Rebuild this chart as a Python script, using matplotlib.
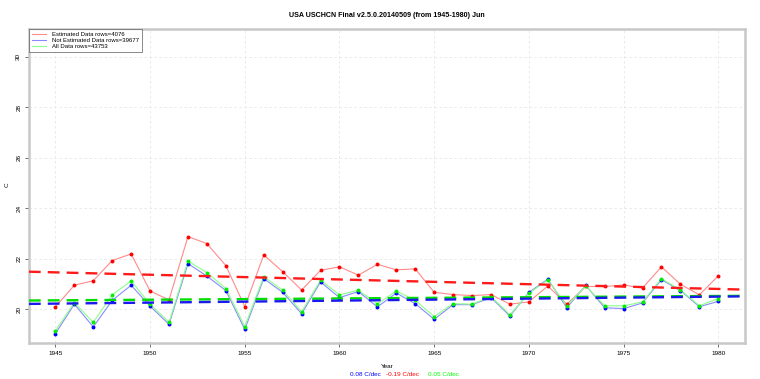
import numpy as np
import matplotlib
matplotlib.use("Agg")
import matplotlib.pyplot as plt

plt.rcParams['font.family'] = ['Liberation Sans', 'DejaVu Sans']

years = list(range(1945, 1981))
estimated = [20.08, 20.94, 21.12, 21.92, 22.18, 20.71, 20.36, 22.87, 22.59, 21.72,
             20.09, 22.14, 21.48, 20.75, 21.53, 21.67, 21.34, 21.77, 21.55, 21.59,
             20.66, 20.57, 20.53, 20.57, 20.19, 20.28, 20.91, 20.19, 20.89, 20.89,
             20.95, 20.83, 21.67, 20.98, 20.56, 21.31]
not_estimated = [19.02, 20.19, 19.29, 20.34, 20.94, 20.11, 19.39, 21.80, 21.30, 20.73,
                 19.19, 21.20, 20.66, 19.81, 21.07, 20.45, 20.69, 20.08, 20.63, 20.21,
                 19.59, 20.17, 20.17, 20.45, 19.72, 20.66, 21.18, 20.05, 20.93, 20.05,
                 20.01, 20.24, 21.16, 20.73, 20.09, 20.30]
all_data = [19.13, 20.25, 19.47, 20.56, 21.11, 20.19, 19.47, 21.90, 21.44, 20.81,
            19.30, 21.28, 20.74, 19.89, 21.14, 20.56, 20.74, 20.20, 20.71, 20.34,
            19.70, 20.21, 20.19, 20.49, 19.77, 20.62, 21.15, 20.12, 20.91, 20.13,
            20.12, 20.28, 21.20, 20.75, 20.13, 20.41]
legend_labels = ["Estimated Data rows=4076", "Not Estimated Data rows=39677", "All Data rows=43753"]
trend_labels = ["0.08 C/dec", "-0.19 C/dec", "0.05 C/dec"]
xticks = [1945, 1950, 1955, 1960, 1965, 1970, 1975, 1980]
yticks = [20, 22, 24, 26, 28, 30]

fig = plt.figure(figsize=(7.6, 3.79), dpi=100)
ax = fig.add_axes([0.038, 0.095, 0.942, 0.8285])
xlim = (1943.6, 1981.4)
ax.set_xlim(*xlim)
ax.set_ylim(18.65, 31.1)

ax.set_xticks(xticks)
ax.set_yticks(yticks)
ax.grid(True, color='#e6e6e6', linestyle=(0, (3, 3)), linewidth=0.6)
ax.set_axisbelow(True)
for s in ax.spines.values():
    s.set_color('#c8c8c8')
    s.set_linewidth(1.8)
ax.tick_params(axis='both', labelsize=4.6, length=3, width=0.6, color='#555555', pad=2.5)
plt.setp(ax.get_yticklabels(), rotation=90, va='center')

series = [
    (estimated, '#ff8a8a', 'red'),
    (not_estimated, '#8a8aff', 'blue'),
    (all_data, '#8aff8a', '#00ee00'),
]
x = np.array(years, dtype=float)
xx = np.array(xlim)
for vals, lc, pc in series:
    ax.plot(years, vals, color=lc, linewidth=0.8, zorder=3)
    ax.scatter(years, vals, color=pc, s=8, zorder=4, linewidths=0)
# trend lines
for vals, c in [(estimated, '#ff1a1a'), (all_data, '#00dd00'), (not_estimated, '#1a1aee')]:
    p = np.polyfit(x, np.array(vals), 1)
    ax.plot(xx, np.polyval(p, xx), color=c, linewidth=1.7, linestyle=(0, (5, 3)), zorder=5)

leg_handles = [plt.Line2D([], [], color=c, linewidth=0.8) for c in ['#ff8a8a', '#8a8aff', '#8aff8a']]
leg = ax.legend(leg_handles, legend_labels, loc='upper left', fontsize=4.3, frameon=True,
                fancybox=False, borderpad=0.5, handlelength=2.3, labelspacing=0.1,
                borderaxespad=0.0, handletextpad=1.0)
leg.get_frame().set_edgecolor('#555555')
leg.get_frame().set_linewidth(0.6)

fig.text(0.509, 0.96, "USA USCHCN Final v2.5.0.20140509 (from 1945-1980) Jun",
         ha='center', va='center', fontsize=5.1, fontweight='bold')
fig.text(0.509, 0.032, "Year", ha='center', va='center', fontsize=4.6)
fig.text(0.009, 0.512, "C", ha='center', va='center', fontsize=4.6, rotation=90)
fig.text(0.481, 0.011, trend_labels[0], ha='center', va='center', fontsize=4.6, color='#0000ff')
fig.text(0.529, 0.011, trend_labels[1], ha='center', va='center', fontsize=4.6, color='#ff0000')
fig.text(0.583, 0.011, trend_labels[2], ha='center', va='center', fontsize=4.6, color='#00ff00')

fig.savefig("out.png", dpi=100)
